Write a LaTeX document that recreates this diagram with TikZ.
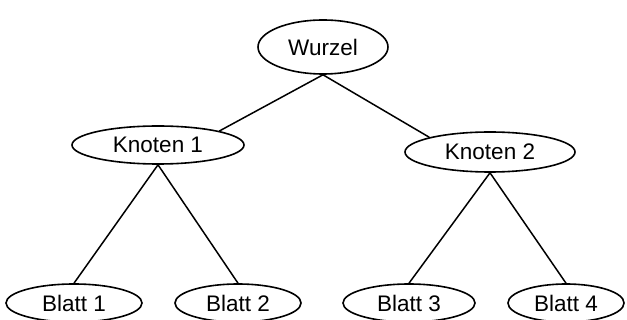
\documentclass[tikz,border=0pt]{standalone}
\usepackage{fontspec}
\setmainfont{Liberation Sans}
\usetikzlibrary{shapes.geometric}
\begin{document}
\begin{tikzpicture}[x=1pt,y=-1pt,
  treenode/.style={draw=black, ellipse, line width=1.6pt, inner sep=0pt,
    font=\fontsize{22.5}{26}\selectfont},
  treeedge/.style={draw=black, line width=1.5pt}]
  \clip (0,0) rectangle (627,320);
  \fill[white] (0,0) rectangle (627,320);
  % root and inner nodes
  \node[treenode, minimum width=130pt, minimum height=54pt] (w) at (323,47) {Wurzel};
  \node[treenode, minimum width=172pt, minimum height=38pt] (k1) at (158,145) {Knoten 1};
  \node[treenode, minimum width=170pt, minimum height=40pt] (k2) at (490,152) {Knoten 2};
  % leaves
  \node[treenode, minimum width=136pt, minimum height=38pt] (b1) at (74,303) {Blatt 1};
  \node[treenode, minimum width=126pt, minimum height=38pt] (b2) at (238,303) {Blatt 2};
  \node[treenode, minimum width=132pt, minimum height=38pt] (b3) at (409,303) {Blatt 3};
  \node[treenode, minimum width=116pt, minimum height=38pt] (b4) at (566,303) {Blatt 4};
  % edges
  \draw[treeedge] (w.south) -- (k1.north east);
  \draw[treeedge] (w.south) -- (k2.north west);
  \draw[treeedge] (k1.south) -- (b1.north);
  \draw[treeedge] (k1.south) -- (b2.north);
  \draw[treeedge] (k2.south) -- (b3.north);
  \draw[treeedge] (k2.south) -- (b4.north);
\end{tikzpicture}
\end{document}
